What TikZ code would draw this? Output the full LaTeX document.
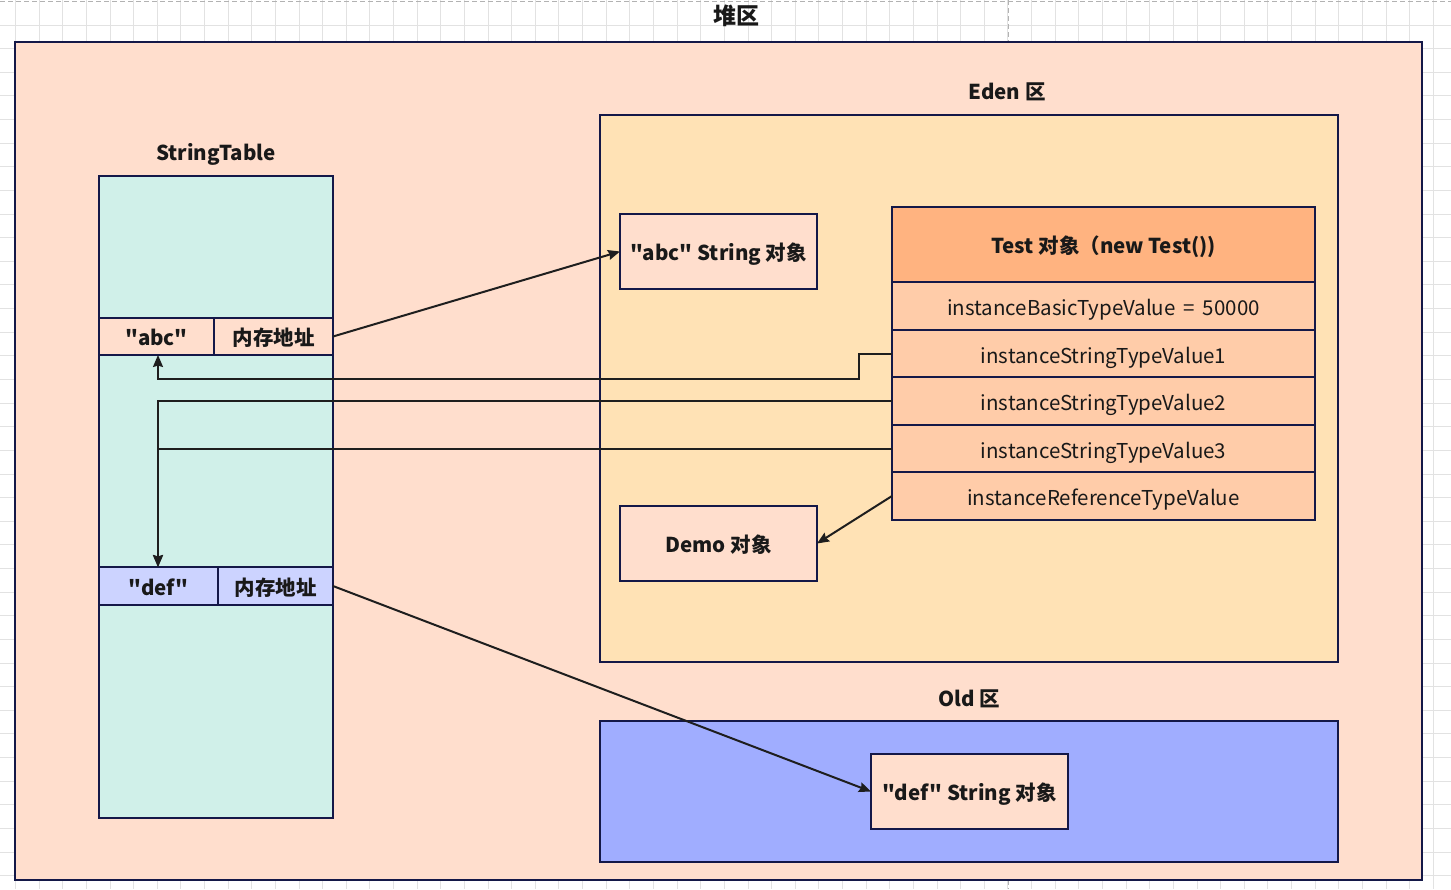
\documentclass[tikz,border=0pt]{standalone}
\usepackage{fontspec}
\setmainfont{Noto Sans CJK SC}[Ligatures=TeXOff]
\usetikzlibrary{arrows.meta}
\definecolor{edge}{HTML}{141848}
\definecolor{heapfill}{HTML}{FFDECD}
\definecolor{mint}{HTML}{D0F0E9}
\definecolor{edenfill}{HTML}{FFE2B5}
\definecolor{headfill}{HTML}{FFB380}
\definecolor{rowfill}{HTML}{FFCCA9}
\definecolor{lavender}{HTML}{CCD3FF}
\definecolor{oldfill}{HTML}{A0ADFF}
\definecolor{gridc}{HTML}{E2E2E2}
\definecolor{linec}{HTML}{1E1E1E}
\tikzset{
  box/.style={draw=edge, line width=1.2pt, anchor=north west, inner sep=0pt, outer sep=0pt},
  txt/.style={text height=19pt, text depth=1pt, text=black!90},
  bold/.style={txt, font=\fontsize{20.5}{24}\selectfont\bfseries},
  plain/.style={txt, font=\fontsize{20.5}{24}\selectfont},
  title/.style={txt, font=\fontsize{20.5}{24}\selectfont\bfseries},
  arr/.style={draw=linec, line width=2pt, -{Stealth[length=12pt,width=10pt,inset=1.5pt]}},
  gridline/.style={draw=gridc, line width=1pt},
  pagebreak/.style={draw=black!30, line width=1pt, dash pattern=on 5pt off 3pt}
}
\begin{document}
\begin{tikzpicture}[x=1pt,y=-1pt]
\useasboundingbox (0,0) rectangle (1451,889);
\fill[white] (0,0) rectangle (1451,889);
% grid
\foreach \i in {0,...,61} \draw[gridline] ({15.5+23.63*\i},0) -- ({15.5+23.63*\i},889);
\foreach \j in {1,...,37} \draw[gridline] (0,{1.4+23.63*\j}) -- (1451,{1.4+23.63*\j});
\draw[pagebreak] (0,1.5) -- (1451,1.5);
\draw[pagebreak] (1008,0) -- (1008,889);

% heap
\node[box, fill=heapfill, minimum width=1407pt, minimum height=838pt] (heap) at (15,42) {};
\node[title, font=\fontsize{23}{26}\selectfont\bfseries] (heapt) at (736,15) {堆区};

% StringTable
\node[title] (stt) at (216,151) {StringTable};
\node[box, fill=mint, minimum width=234pt, minimum height=642pt] (st) at (99,176) {};
\node[box, fill=heapfill, minimum width=115pt, minimum height=37pt, bold] (abc1) at (99,318) {"abc"};
\node[box, fill=heapfill, minimum width=119pt, minimum height=37pt, bold] (abc2) at (214,318) {内存地址};
\node[box, fill=lavender, minimum width=119pt, minimum height=38pt, bold] (def1) at (99,567) {"def"};
\node[box, fill=lavender, minimum width=115pt, minimum height=38pt, bold] (def2) at (218,567) {内存地址};

% Eden
\node[title] (edent) at (1007,90) {Eden 区};
\node[box, fill=edenfill, minimum width=738pt, minimum height=547pt] (eden) at (600,115) {};
\node[box, fill=heapfill, minimum width=197pt, minimum height=75pt, bold] (abcobj) at (620,214) {"abc" String 对象};
\node[box, fill=headfill, minimum width=423pt, minimum height=75pt, bold] (head) at (892,207) {Test 对象（new Test())};
\node[box, fill=rowfill, minimum width=423pt, minimum height=48pt, plain] (r1) at (892,282) {instanceBasicTypeValue \,=\, 50000};
\node[box, fill=rowfill, minimum width=423pt, minimum height=48pt, plain] (r2) at (892,330) {instanceStringTypeValue1};
\node[box, fill=rowfill, minimum width=423pt, minimum height=48pt, plain] (r3) at (892,377) {instanceStringTypeValue2};
\node[box, fill=rowfill, minimum width=423pt, minimum height=48pt, plain] (r4) at (892,425) {instanceStringTypeValue3};
\node[box, fill=rowfill, minimum width=423pt, minimum height=48pt, plain] (r5) at (892,472) {instanceReferenceTypeValue};
\node[box, fill=heapfill, minimum width=197pt, minimum height=75pt, bold] (demo) at (620,506) {Demo 对象};

% Old
\node[title] (oldt) at (969,697) {Old 区};
\node[box, fill=oldfill, minimum width=738pt, minimum height=141pt] (old) at (600,721) {};
\node[box, fill=heapfill, minimum width=197pt, minimum height=75pt, bold] (defobj) at (871,754) {"def" String 对象};

% connector points
\coordinate (k1) at (859,379);
\coordinate (atip) at (158,355);
\coordinate (dtip) at (158,567);

% connectors
\draw[arr] (abc2.east) -- (abcobj.west);
\draw[arr] (r2.west) -| (k1) -| (atip);
\draw[arr] (r3.west) -| (dtip);
\draw[arr] (r4.west) -| (dtip);
\draw[arr] (r5.west) -- (demo.east);
\draw[arr] (def2.east) -- (defobj.west);
\end{tikzpicture}
\end{document}
